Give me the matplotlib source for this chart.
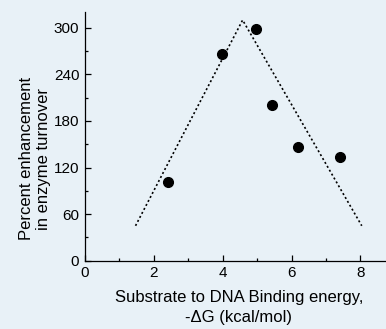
import matplotlib
matplotlib.use("Agg")
import matplotlib.pyplot as plt
from matplotlib.ticker import MultipleLocator

# ----------------------------------------
# Data
# ----------------------------------------
binding_energy = [2.42, 3.99, 4.96, 5.43, 6.20, 7.41]
enhancement = [102, 266, 298, 200, 146, 133]

# dotted guide line (trend)
trend_x = [1.47, 4.58, 8.04]
trend_y = [45, 310, 45]

bg = "#e8f1f7"

plt.rcParams["font.family"] = ["Liberation Sans", "DejaVu Sans"]

fig = plt.figure(figsize=(3.86, 3.29), dpi=100, facecolor=bg)
ax = fig.add_axes([0.220, 0.2076, 0.785, 0.755])
ax.set_facecolor(bg)

ax.plot(trend_x, trend_y, color="black", lw=1.2, linestyle=(0, (1.2, 1.5)))
ax.plot(binding_energy, enhancement, "o", color="black", markersize=7)

ax.set_xlim(0, 8.8)
ax.set_ylim(0, 320)
ax.xaxis.set_major_locator(MultipleLocator(2))
ax.xaxis.set_minor_locator(MultipleLocator(1))
ax.yaxis.set_major_locator(MultipleLocator(60))
ax.yaxis.set_minor_locator(MultipleLocator(30))

for side in ("top", "right"):
    ax.spines[side].set_visible(False)
for side in ("left", "bottom"):
    ax.spines[side].set_linewidth(0.9)

ax.tick_params(which="major", direction="in", length=4, width=0.9,
               labelsize=11, pad=4)
ax.tick_params(which="minor", direction="in", length=2, width=0.9)

ax.set_xlabel("Substrate to DNA Binding energy,\n-\u0394G (kcal/mol)",
              fontsize=12, linespacing=1.45)
ax.xaxis.set_label_coords(0.508, -0.118)
ax.xaxis.label.set_va("top")

ax.set_ylabel("Percent enhancement\nin enzyme turnover",
              fontsize=12, linespacing=1.15)
ax.yaxis.set_label_coords(-0.112, 0.41)

fig.savefig("out.png", dpi=100, facecolor=bg)
